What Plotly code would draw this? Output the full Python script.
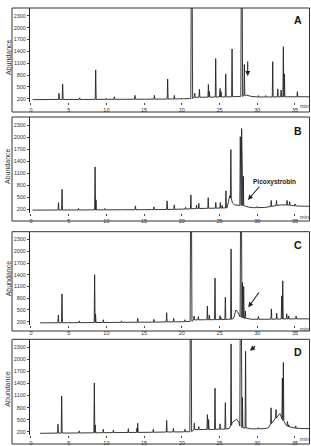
import plotly.graph_objects as go

W, H = 311, 446

# ---------------- data (retention time in min, abundance) ----------------
# Panel A
A_base_t = [0.2, 3.4, 5, 7, 10, 12, 15, 18, 20, 21.1, 21.6, 23, 25, 27, 27.6, 28.6, 29.2, 30, 32, 34, 36.86]
A_base_v = [178, 180, 182, 182, 185, 186, 188, 192, 200, 210, 235, 240, 245, 250, 258, 290, 260, 245, 245, 250, 250]
A_peak_t = [3.71, 4.20, 6.45, 8.58, 9.95, 11.05, 13.79, 16.36, 18.12, 19.01, 21.31, 21.71, 22.33, 23.52, 23.65,
            24.49, 25.07, 25.20, 25.82, 26.66, 27.94, 28.29, 30.15, 31.12, 32.05, 32.72, 33.16, 33.46, 33.60, 35.32]
A_peak_h = [340, 570, 225, 930, 210, 250, 285, 285, 700, 285, 6000, 340, 440, 560, 380,
            1220, 460, 380, 830, 1460, 6000, 1070, 280, 280, 1140, 450, 420, 1520, 830, 380]
A_peak_f = [182, 182, 182, 184, 185, 186, 188, 190, 193, 195, 205, 235, 238, 240, 240,
            243, 245, 245, 246, 250, 260, 285, 245, 245, 245, 247, 248, 250, 250, 250]

# Panel B
B_base_t = [0.2, 3.4, 5, 8, 12, 16, 20, 22, 25, 26.0, 26.2, 26.35, 26.7, 27.0, 27.4, 28.4, 28.8, 29.5, 31, 32.5, 33.2, 34.5, 35.5, 36.86]
B_base_v = [180, 182, 183, 185, 188, 192, 205, 220, 230, 240, 400, 540, 360, 310, 300, 280, 255, 240, 245, 290, 310, 300, 280, 275]
B_peak_t = [3.65, 4.12, 6.3, 8.50, 8.62, 9.8, 13.85, 16.3, 18.05, 19.0, 20.5, 21.2, 21.95, 22.25, 23.5,
            24.5, 25.1, 25.35, 25.85, 26.5, 27.75, 27.93, 28.15, 30.0, 31.85, 32.55, 33.95, 34.3, 35.0]
B_peak_h = [367, 700, 220, 1255, 435, 220, 285, 260, 410, 310, 250, 560, 300, 350, 490,
            370, 370, 300, 660, 1690, 2010, 2210, 1020, 270, 420, 420, 420, 390, 335]
B_peak_f = [182, 182, 183, 185, 185, 186, 189, 191, 195, 198, 205, 212, 218, 220, 225,
            228, 230, 230, 235, 480, 295, 295, 290, 242, 270, 295, 305, 300, 285]

# Panel C
C_base_t = [1.2, 3.4, 5, 8, 12, 16, 20, 21.05, 21.6, 23, 25, 26.2, 26.9, 27.15, 27.4, 27.65, 28.6, 29.2, 31, 33, 36.86]
C_base_v = [170, 172, 175, 178, 182, 188, 198, 205, 245, 250, 255, 262, 300, 500, 450, 330, 285, 262, 262, 268, 272]
C_peak_t = [3.63, 4.11, 6.4, 8.44, 8.56, 9.59, 12.0, 14.15, 16.3, 17.99, 18.92, 20.4, 21.22, 21.62, 22.19,
            23.39, 23.65, 24.40, 25.07, 25.20, 25.77, 26.53, 27.85, 28.03, 28.20, 28.42, 30.15, 31.70, 31.87,
            32.58, 33.24, 33.38, 33.91, 34.17, 35.15]
C_peak_h = [370, 910, 220, 1400, 390, 250, 220, 285, 260, 430, 285, 250, 6000, 345, 330,
            600, 370, 1314, 355, 300, 825, 2060, 6000, 1200, 1100, 475, 330, 280, 525,
            415, 860, 1245, 400, 345, 345]
C_peak_f = [172, 173, 175, 178, 178, 180, 182, 186, 188, 194, 196, 200, 205, 245, 247,
            250, 250, 252, 254, 254, 256, 262, 320, 300, 290, 285, 262, 263, 264,
            266, 268, 268, 270, 270, 272]

# Panel D
D_base_t = [1.2, 3.4, 5, 8, 12, 16, 20, 21.0, 21.6, 23, 25, 26.3, 26.65, 26.9, 27.25, 27.55, 27.7, 28.7, 29.2, 31,
            31.5, 31.95, 32.3, 32.7, 33.0, 33.2, 33.65, 34.4, 35, 36.86]
D_base_v = [160, 165, 168, 172, 178, 185, 195, 200, 250, 255, 262, 280, 420, 460, 510, 440, 360, 290, 270, 275,
            300, 420, 520, 580, 650, 560, 420, 320, 285, 275]
D_peak_t = [3.58, 4.07, 6.4, 8.40, 8.52, 9.59, 10.92, 12.91, 14.05, 14.15, 16.22, 17.99, 18.88, 20.42, 21.18,
            21.66, 22.24, 23.39, 23.55, 24.40, 25.07, 25.77, 26.53, 27.81, 28.03, 28.45, 30.15, 31.83, 32.49,
            33.33, 33.46, 34.00, 34.17, 35.10]
D_peak_h = [385, 1090, 220, 1415, 370, 260, 240, 275, 285, 410, 260, 480, 285, 260, 6000,
            410, 330, 625, 500, 1280, 395, 920, 2385, 6000, 1050, 2200, 300, 795, 750,
            1535, 1925, 455, 370, 345]
D_peak_f = [165, 166, 168, 172, 172, 174, 177, 180, 182, 182, 186, 192, 194, 198, 200,
            250, 252, 255, 255, 258, 262, 265, 360, 340, 300, 290, 272, 400, 540,
            520, 480, 340, 320, 285]

Y_TICKS = [200, 500, 800, 1100, 1400, 1700, 2000, 2300]
X_TICKS = [0, 5, 10, 15, 20, 25, 30, 35]
PANEL_LABELS = ["A", "B", "C", "D"]

# ---------------- helpers ----------------
def build(bt, bv, pt, ph, pf):
    pts, wins = [], []
    for t, h, f in zip(pt, ph, pf):
        w = 0.12 if h > 3000 else 0.06
        pts += [(t - w, f), (t, h), (t + w, f)]
        wins.append((t - w, t + w))
    for t, v in zip(bt, bv):
        if not any(a <= t <= b for a, b in wins):
            pts.append((t, v))
    pts.sort(key=lambda p: p[0])
    return [p[0] for p in pts], [p[1] for p in pts]

panels = [
    (A_base_t, A_base_v, A_peak_t, A_peak_h, A_peak_f),
    (B_base_t, B_base_v, B_peak_t, B_peak_h, B_peak_f),
    (C_base_t, C_base_v, C_peak_t, C_peak_h, C_peak_f),
    (D_base_t, D_base_v, D_peak_t, D_peak_h, D_peak_f),
]

# pixel layout: (box top, plot height, box bottom)
geom = [(8, 94.3, 112), (117, 95.9, 221), (231.7, 93.5, 331), (339.3, 96.0, 444)]
XL, XR, BOXL = 30, 309, 12
FONT = "Liberation Sans, Arial, sans-serif"
LC = "#222222"

def py(p):
    return 1 - p / H

def px(p):
    return p / W

fig = go.Figure()
shapes, annotations = [], []
layout = {}

for i, (data, (top, ph, bot)) in enumerate(zip(panels, geom)):
    x, y = build(*data)
    sfx = "" if i == 0 else str(i + 1)
    fig.add_trace(go.Scatter(x=x, y=y, mode="lines", line=dict(color=LC, width=0.9),
                             xaxis="x" + sfx, yaxis="y" + sfx, showlegend=False, hoverinfo="skip"))
    layout["xaxis" + sfx] = dict(
        domain=[px(XL), px(XR)], range=[-0.13, 36.86], anchor="y" + sfx,
        tickmode="array", tickvals=X_TICKS, ticktext=[str(v) for v in X_TICKS],
        ticks="outside", ticklen=2, tickwidth=0.7, tickcolor="#444",
        showline=False, showgrid=False, zeroline=False,
        tickfont=dict(size=5.5, color="#333", family=FONT))
    layout["yaxis" + sfx] = dict(
        domain=[py(top + ph), py(top)], range=[110, 2500], anchor="x" + sfx,
        tickmode="array", tickvals=Y_TICKS, ticktext=[str(v) for v in Y_TICKS],
        ticks="outside", ticklen=2, tickwidth=0.7, tickcolor="#444",
        showline=True, linecolor="#222", linewidth=1,
        showgrid=False, zeroline=False,
        tickfont=dict(size=5.5, color="#333", family=FONT))
    # outer frame
    shapes.append(dict(type="rect", xref="paper", yref="paper",
                       x0=px(BOXL), x1=px(309.5), y0=py(bot), y1=py(top),
                       line=dict(color="#333", width=1), fillcolor="rgba(0,0,0,0)"))
    # panel letter
    letter_y = [20, 130.7, 245, 351.7][i]
    annotations.append(dict(text="<b>%s</b>" % PANEL_LABELS[i], xref="paper", yref="paper",
                            x=px(297.5), y=py(letter_y), showarrow=False,
                            font=dict(size=10.5, color="#111", family=FONT),
                            xanchor="center", yanchor="middle"))
    # Abundance
    annotations.append(dict(text="Abundance", xref="paper", yref="paper",
                            x=px(8), y=py((top + bot) / 2 - 3), showarrow=False, textangle=-90,
                            font=dict(size=7, color="#333", family=FONT),
                            xanchor="center", yanchor="middle"))
    # min
    annotations.append(dict(text="min", xref="paper", yref="paper",
                            x=px(304), y=py(top + ph + 4), showarrow=False,
                            font=dict(size=5.5, color="#333", family=FONT),
                            xanchor="center", yanchor="middle"))

# arrows (head px, tail px)
arrows = [((247.7, 76), (247.7, 60)),
          ((248, 200), (260.7, 185)),
          ((248.3, 307.3), (260, 291)),
          ((250, 350.7), (256.7, 345))]
for (hx, hy), (tx, ty) in arrows:
    annotations.append(dict(text="", xref="paper", yref="paper", x=px(hx), y=py(hy),
                            ax=tx - hx, ay=ty - hy, showarrow=True, arrowhead=2,
                            arrowsize=0.9, arrowwidth=1.1, arrowcolor="#222"))

annotations.append(dict(text="<b>Picoxystrobin</b>", xref="paper", yref="paper",
                        x=px(274.5), y=py(181.5), showarrow=False,
                        font=dict(size=6.5, color="#222", family=FONT),
                        xanchor="center", yanchor="middle"))

fig.update_layout(width=W, height=H, margin=dict(l=0, r=0, t=0, b=0),
                  paper_bgcolor="white", plot_bgcolor="white",
                  shapes=shapes, annotations=annotations, **layout)

fig.write_html("out.html", config={"displayModeBar": False})
